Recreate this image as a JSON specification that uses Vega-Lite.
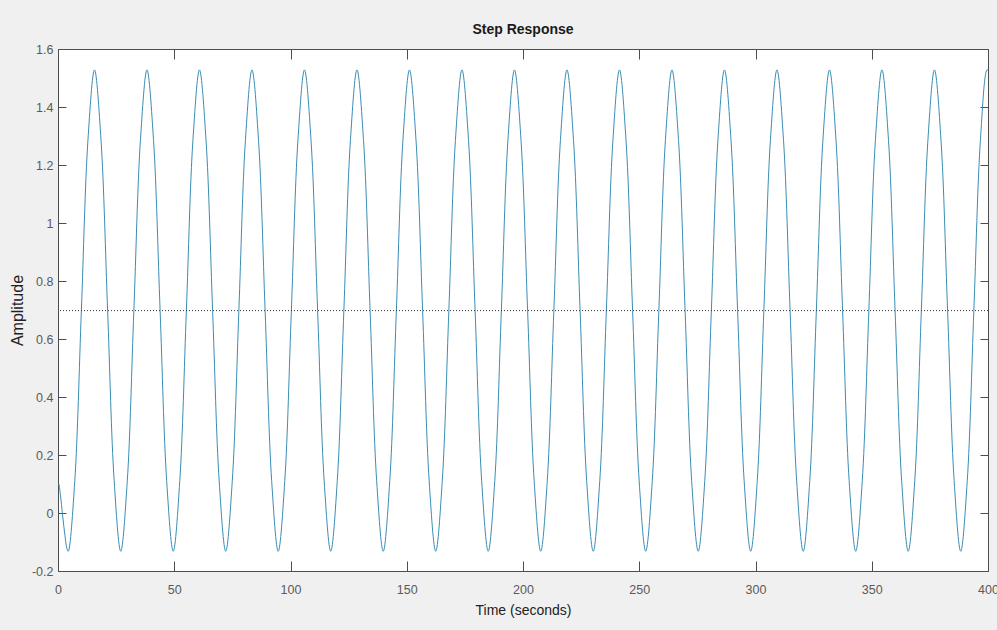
{
  "$schema": "https://vega.github.io/schema/vega-lite/v6.json",
  "width": 930,
  "height": 522,
  "autosize": {"type": "none"},
  "padding": {"left": 58, "top": 49, "right": 9, "bottom": 59},
  "background": "#f0f0f0",
  "title": {"text": "Step Response", "font": "Liberation Sans", "fontSize": 14, "fontWeight": "bold", "color": "#1a1a1a", "offset": 6, "anchor": "middle"},
  "datasets": {
    "resp": [
      {"t": 0, "y": 0.097}, {"t": 0.3, "y": 0.1}, {"t": 1.0, "y": 0.065}, {"t": 2.0, "y": -0.01}, {"t": 3.0, "y": -0.078}, {"t": 3.8, "y": -0.121},
      {"t": 4.40, "y": -0.132}, {"t": 7.22, "y": 0.111}, {"t": 10.05, "y": 0.698}, {"t": 12.87, "y": 1.285}, {"t": 15.69, "y": 1.528}, {"t": 18.51, "y": 1.285}, {"t": 21.34, "y": 0.698}, {"t": 24.16, "y": 0.111},
      {"t": 26.98, "y": -0.132}, {"t": 29.80, "y": 0.111}, {"t": 32.63, "y": 0.698}, {"t": 35.45, "y": 1.285}, {"t": 38.27, "y": 1.528}, {"t": 41.09, "y": 1.285}, {"t": 43.92, "y": 0.698}, {"t": 46.74, "y": 0.111},
      {"t": 49.56, "y": -0.132}, {"t": 52.38, "y": 0.111}, {"t": 55.21, "y": 0.698}, {"t": 58.03, "y": 1.285}, {"t": 60.85, "y": 1.528}, {"t": 63.67, "y": 1.285}, {"t": 66.50, "y": 0.698}, {"t": 69.32, "y": 0.111},
      {"t": 72.14, "y": -0.132}, {"t": 74.96, "y": 0.111}, {"t": 77.79, "y": 0.698}, {"t": 80.61, "y": 1.285}, {"t": 83.43, "y": 1.528}, {"t": 86.25, "y": 1.285}, {"t": 89.08, "y": 0.698}, {"t": 91.90, "y": 0.111},
      {"t": 94.72, "y": -0.132}, {"t": 97.54, "y": 0.111}, {"t": 100.37, "y": 0.698}, {"t": 103.19, "y": 1.285}, {"t": 106.01, "y": 1.528}, {"t": 108.83, "y": 1.285}, {"t": 111.66, "y": 0.698}, {"t": 114.48, "y": 0.111},
      {"t": 117.30, "y": -0.132}, {"t": 120.12, "y": 0.111}, {"t": 122.95, "y": 0.698}, {"t": 125.77, "y": 1.285}, {"t": 128.59, "y": 1.528}, {"t": 131.41, "y": 1.285}, {"t": 134.24, "y": 0.698}, {"t": 137.06, "y": 0.111},
      {"t": 139.88, "y": -0.132}, {"t": 142.70, "y": 0.111}, {"t": 145.53, "y": 0.698}, {"t": 148.35, "y": 1.285}, {"t": 151.17, "y": 1.528}, {"t": 153.99, "y": 1.285}, {"t": 156.82, "y": 0.698}, {"t": 159.64, "y": 0.111},
      {"t": 162.46, "y": -0.132}, {"t": 165.28, "y": 0.111}, {"t": 168.11, "y": 0.698}, {"t": 170.93, "y": 1.285}, {"t": 173.75, "y": 1.528}, {"t": 176.57, "y": 1.285}, {"t": 179.40, "y": 0.698}, {"t": 182.22, "y": 0.111},
      {"t": 185.04, "y": -0.132}, {"t": 187.86, "y": 0.111}, {"t": 190.69, "y": 0.698}, {"t": 193.51, "y": 1.285}, {"t": 196.33, "y": 1.528}, {"t": 199.15, "y": 1.285}, {"t": 201.98, "y": 0.698}, {"t": 204.80, "y": 0.111},
      {"t": 207.62, "y": -0.132}, {"t": 210.44, "y": 0.111}, {"t": 213.27, "y": 0.698}, {"t": 216.09, "y": 1.285}, {"t": 218.91, "y": 1.528}, {"t": 221.73, "y": 1.285}, {"t": 224.56, "y": 0.698}, {"t": 227.38, "y": 0.111},
      {"t": 230.20, "y": -0.132}, {"t": 233.02, "y": 0.111}, {"t": 235.85, "y": 0.698}, {"t": 238.67, "y": 1.285}, {"t": 241.49, "y": 1.528}, {"t": 244.31, "y": 1.285}, {"t": 247.14, "y": 0.698}, {"t": 249.96, "y": 0.111},
      {"t": 252.78, "y": -0.132}, {"t": 255.60, "y": 0.111}, {"t": 258.43, "y": 0.698}, {"t": 261.25, "y": 1.285}, {"t": 264.07, "y": 1.528}, {"t": 266.89, "y": 1.285}, {"t": 269.72, "y": 0.698}, {"t": 272.54, "y": 0.111},
      {"t": 275.36, "y": -0.132}, {"t": 278.18, "y": 0.111}, {"t": 281.01, "y": 0.698}, {"t": 283.83, "y": 1.285}, {"t": 286.65, "y": 1.528}, {"t": 289.47, "y": 1.285}, {"t": 292.30, "y": 0.698}, {"t": 295.12, "y": 0.111},
      {"t": 297.94, "y": -0.132}, {"t": 300.76, "y": 0.111}, {"t": 303.59, "y": 0.698}, {"t": 306.41, "y": 1.285}, {"t": 309.23, "y": 1.528}, {"t": 312.05, "y": 1.285}, {"t": 314.88, "y": 0.698}, {"t": 317.70, "y": 0.111},
      {"t": 320.52, "y": -0.132}, {"t": 323.34, "y": 0.111}, {"t": 326.17, "y": 0.698}, {"t": 328.99, "y": 1.285}, {"t": 331.81, "y": 1.528}, {"t": 334.63, "y": 1.285}, {"t": 337.46, "y": 0.698}, {"t": 340.28, "y": 0.111},
      {"t": 343.10, "y": -0.132}, {"t": 345.92, "y": 0.111}, {"t": 348.75, "y": 0.698}, {"t": 351.57, "y": 1.285}, {"t": 354.39, "y": 1.528}, {"t": 357.21, "y": 1.285}, {"t": 360.04, "y": 0.698}, {"t": 362.86, "y": 0.111},
      {"t": 365.68, "y": -0.132}, {"t": 368.50, "y": 0.111}, {"t": 371.33, "y": 0.698}, {"t": 374.15, "y": 1.285}, {"t": 376.97, "y": 1.528}, {"t": 379.79, "y": 1.285}, {"t": 382.62, "y": 0.698}, {"t": 385.44, "y": 0.111},
      {"t": 388.26, "y": -0.132}, {"t": 391.08, "y": 0.111}, {"t": 393.91, "y": 0.698}, {"t": 396.73, "y": 1.285}, {"t": 399.55, "y": 1.528}, {"t": 400, "y": 1.527}
    ],
    "ss": [{"y": 0.698}]
  },
  "layer": [
    {
      "data": {"name": "resp"},
      "mark": {"type": "line", "interpolate": "catmull-rom", "color": "#3a8db5", "strokeWidth": 1, "clip": true},
      "encoding": {
        "x": {"field": "t", "type": "quantitative", "scale": {"domain": [0, 400], "nice": false, "zero": false},
          "axis": {"orient": "bottom", "title": "Time (seconds)", "values": [0, 50, 100, 150, 200, 250, 300, 350, 400], "tickSize": -10, "labelPadding": 22, "titlePadding": 8, "labelFlush": false, "labelOverlap": false}},
        "y": {"field": "y", "type": "quantitative", "scale": {"domain": [-0.2, 1.6], "nice": false, "zero": false},
          "axis": {"orient": "left", "title": "Amplitude", "titleFontSize": 16, "values": [-0.2, 0, 0.2, 0.4, 0.6, 0.8, 1, 1.2, 1.4, 1.6], "labelExpr": "toString(round(datum.value*10)/10)", "tickSize": -8, "labelPadding": 13, "titlePadding": 6, "labelFlush": false, "labelOverlap": false}}
      }
    },
    {
      "data": {"name": "ss"},
      "mark": {"type": "rule", "color": "#333333", "strokeWidth": 1, "strokeDash": [1, 2]},
      "encoding": {
        "y": {"field": "y", "type": "quantitative", "axis": null}
      }
    },
    {
      "data": {"name": "resp"},
      "mark": {"type": "line", "strokeOpacity": 0},
      "encoding": {
        "x": {"field": "t", "type": "quantitative", "axis": {"orient": "top", "title": null, "labels": false, "values": [0, 50, 100, 150, 200, 250, 300, 350, 400], "tickSize": -10}},
        "y": {"field": "y", "type": "quantitative", "axis": {"orient": "right", "title": null, "labels": false, "values": [-0.2, 0, 0.2, 0.4, 0.6, 0.8, 1, 1.2, 1.4, 1.6], "tickSize": -8}}
      }
    }
  ],
  "resolve": {"axis": {"x": "independent", "y": "independent"}},
  "config": {
    "view": {"fill": "white", "stroke": "#4d4d4d", "strokeWidth": 1},
    "axis": {"domain": false, "grid": false, "ticks": true, "tickColor": "#4d4d4d", "tickWidth": 1,
      "labelFont": "Liberation Sans", "labelFontSize": 12.5, "labelColor": "#5a5a5a",
      "titleFont": "Liberation Sans", "titleFontSize": 14, "titleFontWeight": "normal", "titleColor": "#222222"}
  }
}
